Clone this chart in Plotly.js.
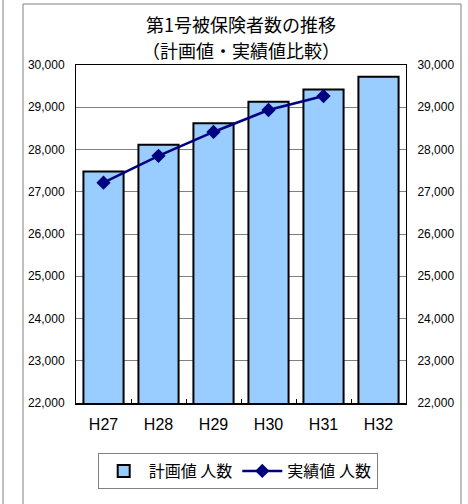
<!DOCTYPE html>
<html>
<head>
<meta charset="utf-8">
<script src="https://cdn.plot.ly/plotly-3.0.1.min.js"></script>
<style>
html,body{margin:0;padding:0;background:#fff;}
#chart{width:468px;height:504px;}
</style>
</head>
<body>
<div id="chart"></div>
<script>
var categories = ['H27','H28','H29','H30','H31','H32'];
var planValues = [27480, 28110, 28620, 29130, 29420, 29720];
var actualValues = [27215, 27850, 28415, 28935, 29265, null];
var planName = '計画値 人数';
var actualName = '実績値 人数';
var titleLine1 = '第1号被保険者数の推移';
var titleLine2 = '（計画値・実績値比較）';

var FONT = '"Liberation Sans", Arial, "Noto Sans CJK JP", sans-serif';
var JFONT = '"Noto Sans CJK JP", sans-serif';

var traces = [
  {
    type: 'bar', x: categories, y: planValues, name: planName,
    marker: {color: '#99ccff', line: {color: '#000000', width: 2}},
    hoverinfo: 'skip'
  },
  {
    type: 'scatter', mode: 'lines+markers', x: categories, y: actualValues,
    name: actualName, yaxis: 'y2',
    line: {color: '#000080', width: 2.5},
    marker: {symbol: 'diamond', size: 11, color: '#000080'},
    hoverinfo: 'skip'
  }
];

var L = 76, R = 406, T = 65, B = 403;
function px(x){ return (x - L) / (R - L); }
function py(y){ return (B - y) / (B - T); }

var layout = {
  width: 468, height: 504,
  margin: {l: L, r: 468 - R, t: T, b: 504 - B},
  paper_bgcolor: '#ffffff', plot_bgcolor: '#ffffff',
  font: {family: FONT, color: '#000000'},
  bargap: 0.27,
  showlegend: true,
  legend: {
    orientation: 'h', x: 0.49, xanchor: 'center', y: py(453), yanchor: 'top',
    bordercolor: '#808080', borderwidth: 1, bgcolor: '#ffffff',
    font: {family: JFONT, size: 16, color: '#000000'},
    itemwidth: 40,
    tracegroupgap: 0
  },
  xaxis: {
    type: 'category',
    showline: true, linecolor: '#000000', linewidth: 1.5, mirror: true,
    ticks: 'inside', tickson: 'boundaries', ticklen: 4, tickcolor: '#000000',
    tickfont: {family: FONT, size: 16, color: '#000000'},
    ticklabelstandoff: 6,
    showgrid: false, zeroline: false, fixedrange: true
  },
  yaxis: {
    range: [22000, 30000], dtick: 1000, tickformat: ',d',
    showline: true, linecolor: '#000000', linewidth: 1,
    showgrid: true, gridcolor: '#7f7f7f', gridwidth: 1,
    ticks: '', tickfont: {family: FONT, size: 12, color: '#000000'},
    ticklabelstandoff: 8,
    zeroline: false, fixedrange: true
  },
  yaxis2: {
    range: [22000, 30000], dtick: 1000, tickformat: ',d',
    overlaying: 'y', side: 'right',
    showline: true, linecolor: '#000000', linewidth: 1,
    showgrid: false, ticks: '',
    tickfont: {family: FONT, size: 12, color: '#000000'},
    ticklabelstandoff: 8,
    zeroline: false, fixedrange: true
  },
  annotations: [
    {text: titleLine1, xref: 'paper', yref: 'paper', x: px(241), y: py(24),
     xanchor: 'center', yanchor: 'middle', showarrow: false,
     font: {family: JFONT, size: 18, color: '#000000'}},
    {text: titleLine2, xref: 'paper', yref: 'paper', x: px(241), y: py(50),
     xanchor: 'center', yanchor: 'middle', showarrow: false,
     font: {family: JFONT, size: 18, color: '#000000'}}
  ],
  shapes: [
    {type: 'rect', xref: 'paper', yref: 'paper', layer: 'below',
     x0: px(23), x1: px(461), y0: py(520), y1: py(4),
     line: {color: '#808080', width: 1}, fillcolor: 'rgba(0,0,0,0)'},
    {type: 'line', xref: 'paper', yref: 'paper', layer: 'below',
     x0: px(3), x1: px(3), y0: py(520), y1: py(0),
     line: {color: '#808080', width: 1}}
  ]
};

Plotly.newPlot('chart', traces, layout, {staticPlot: true, displayModeBar: false});
</script>
</body>
</html>
